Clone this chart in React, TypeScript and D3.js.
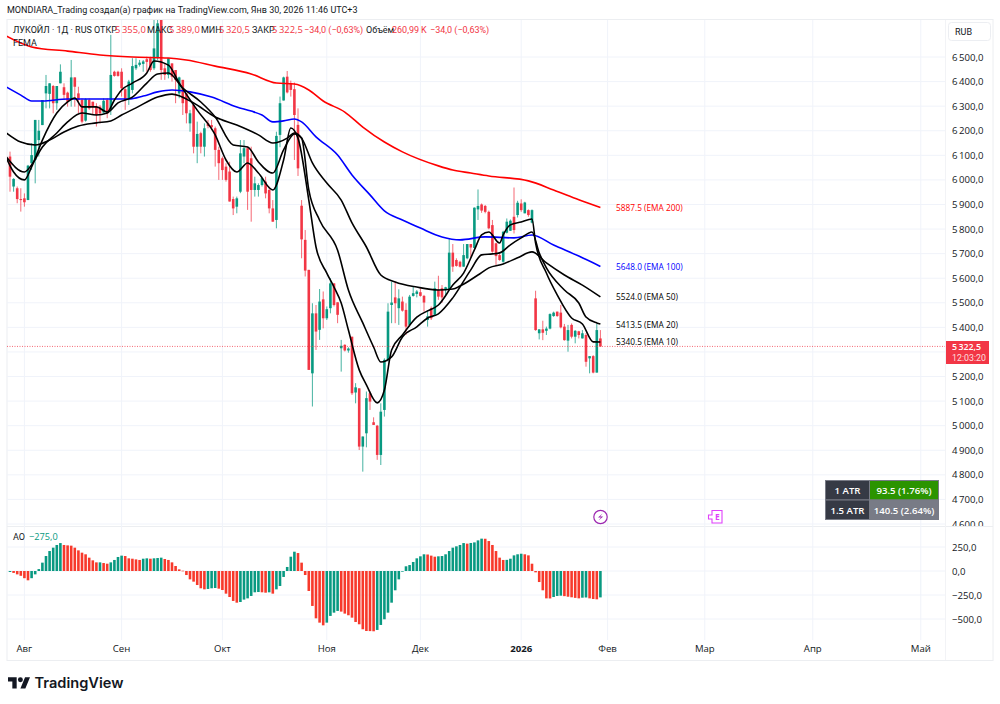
import React from "react";
import * as d3 from "d3";

// daily candles
const opens = [6095,5973,5966,5922,5925,5918,6068,6081,6162,6223,6352,6350,6382,6312,6393,6377,6355,6325,6417,6352,6325,6241,6325,6318,6298,6298,6274,6325,6285,6440,6440,6440,6369,6332,6366,6454,6468,6472,6491,6495,6454,6495,6651,6454,6427,6474,6447,6352,6407,6352,6230,6305,6135,6190,6135,6230,6223,6210,6122,6088,6054,6034,5922,5891,5952,6095,6129,6088,5959,5959,5979,5993,5959,5884,5837,6183,6323,6420,6393,6369,6224,5895,5756,5634,5213,5457,5390,5514,5437,5478,5579,5502,5315,5329,5306,5362,5135,5152,4915,4969,5132,5014,5000,4881,5064,5268,5491,5522,5478,5505,5471,5410,5528,5536,5543,5528,5430,5478,5451,5552,5559,5555,5555,5704,5674,5667,5647,5681,5739,5723,5880,5900,5894,5870,5816,5742,5694,5667,5785,5793,5850,5857,5904,5864,5877,5826,5518,5376,5392,5386,5395,5446,5464,5460,5403,5346,5410,5362,5384,5355,5369,5274,5283,5216,5355];
const highs = [6115,6007,5973,5966,5945,6061,6149,6244,6244,6325,6427,6393,6386,6382,6470,6393,6359,6488,6417,6379,6332,6332,6332,6318,6312,6305,6332,6332,6590,6444,6444,6454,6373,6407,6495,6495,6488,6488,6501,6501,6651,6651,6660,6474,6495,6474,6447,6420,6407,6352,6285,6305,6237,6196,6230,6244,6244,6217,6135,6095,6068,6074,5932,5932,6162,6162,6135,6135,6013,5986,6013,6013,5973,5918,6196,6339,6420,6443,6404,6396,6291,5918,5796,5634,5498,5491,5556,5546,5485,5600,5579,5502,5349,5331,5319,5362,5173,5152,4956,5139,5139,5034,5003,5091,5274,5498,5586,5586,5555,5525,5498,5532,5566,5552,5559,5532,5470,5485,5586,5610,5572,5565,5762,5739,5681,5671,5739,5739,5739,5888,5961,5904,5898,5875,5837,5744,5701,5793,5843,5839,5969,5915,5921,5911,5880,5880,5549,5392,5427,5403,5457,5464,5464,5491,5414,5410,5416,5389,5386,5389,5376,5283,5287,5414,5389];
const lows = [5952,5952,5905,5871,5891,5918,6040,5986,6095,6223,6291,6291,6271,6285,6393,6325,6298,6298,6298,6271,6230,6237,6285,6264,6217,6230,6271,6251,6264,6420,6420,6339,6285,6305,6352,6447,6461,6440,6440,6440,6447,6488,6407,6407,6413,6400,6312,6332,6264,6230,6196,6108,6068,6108,6095,6210,6203,6054,6000,6000,5993,5912,5857,5864,5946,6068,5878,5830,5932,5932,5973,5925,5864,5830,5803,6133,6323,6352,6339,6081,6016,5681,5607,5227,5078,5308,5349,5396,5430,5457,5485,5417,5220,5302,5297,5125,5091,4901,4813,4912,5064,5003,4861,4840,5037,5261,5417,5417,5410,5464,5369,5403,5525,5522,5525,5464,5403,5430,5451,5512,5500,5525,5552,5626,5647,5644,5647,5677,5685,5721,5837,5866,5864,5799,5704,5654,5671,5663,5782,5793,5782,5847,5870,5864,5850,5823,5386,5351,5348,5369,5392,5443,5443,5396,5346,5301,5355,5335,5355,5355,5240,5213,5213,5216,5320.5];
const closes = [6013,6004,5922,5918,5909,6058,6101,6244,6200,6325,6382,6393,6312,6382,6440,6346,6318,6417,6379,6325,6237,6328,6291,6298,6264,6271,6322,6271,6427,6423,6423,6373,6325,6400,6463,6468,6477,6482,6480,6447,6535,6637,6447,6427,6495,6420,6407,6417,6312,6271,6271,6135,6187,6135,6210,6219,6214,6122,6068,6040,6000,5912,5884,5925,6108,6129,5952,5959,5986,5979,6007,5945,5884,5830,6179,6312,6417,6356,6366,6264,6047,5758,5631,5227,5457,5383,5505,5437,5474,5579,5491,5451,5325,5306,5314,5132,5156,4915,4956,5112,5098,5003,4881,5057,5268,5464,5501,5498,5518,5468,5403,5525,5539,5546,5528,5501,5445,5437,5559,5525,5522,5563,5704,5647,5650,5647,5694,5739,5725,5887,5894,5875,5870,5803,5708,5690,5674,5789,5830,5834,5796,5907,5877,5908,5857,5877,5389,5392,5378,5395,5454,5460,5446,5400,5348,5389,5362,5386,5369,5376,5260,5283,5216,5389,5322.5];

// moving averages, sampled along each line as bar number / price
const ema200Bars = [-1,6,16,25,34,44,49,57,67,74,79,83,87,93,98,104,109,119,123,128,133,144,151,158,164];
const ema200Vals = [6585,6541,6524,6508,6500,6496,6488,6463,6431,6394,6390,6366,6321,6276,6215,6154,6114,6057,6040,6028,6016,5996,5959,5919,5887.5];
const ema100Bars = [-1,3,6,9,16,20,25,29,33,37,41,45,50,56,63,67,70,73,76,79,81,85,91,95,100,104,109,114,120,125,132,140,145,151,158,164];
const ema100Vals = [6378,6345,6321,6321,6329,6329,6329,6329,6329,6341,6358,6366,6358,6337,6297,6280,6264,6236,6240,6248,6236,6175,6101,6020,5939,5874,5837,5804,5768,5756,5768,5764,5776,5735,5690,5648];
const ema50Bars = [-1,3,7,11,15,19,24,28,31,35,41,45,51,57,63,69,73,77,79,81,84,88,92,95,99,103,107,113,119,123,125,130,133,137,141,145,149,154,159,164];
const ema50Vals = [6191,6154,6142,6162,6195,6219,6232,6240,6264,6293,6337,6349,6313,6256,6223,6183,6150,6170,6191,6170,6069,5987,5918,5825,5727,5613,5585,5564,5552,5556,5568,5613,5642,5658,5683,5707,5662,5613,5572,5524];
const ema20Bars = [-1,4,6,9,13,16,20,24,27,30,34,38,41,44,48,53,57,62,66,69,73,76,79,81,83,86,91,94,98,101,103,106,109,113,116,119,123,128,131,134,136,139,142,145,147,149,154,158,160,163,164];
const ema20Vals = [6093,6032,6061,6134,6191,6236,6272,6264,6272,6313,6337,6394,6431,6435,6374,6317,6256,6142,6134,6073,6028,6122,6187,6170,5959,5836,5714,5552,5418,5320,5259,5280,5361,5402,5438,5455,5520,5634,5695,5699,5703,5736,5764,5788,5703,5642,5552,5499,5442,5418,5413.5];
const ema10Bars = [-1,1,4,6,9,13,16,18,20,24,27,29,31,34,38,40,44,47,52,57,60,63,66,69,73,76,78,80,83,85,88,90,92,94,97,99,102,104,106,109,113,116,119,123,126,129,131,133,136,137,139,142,145,146,149,152,156,159,162,164];
const ema10Vals = [6089,6032,6000,6053,6162,6272,6317,6333,6297,6297,6276,6325,6366,6394,6435,6484,6467,6394,6284,6183,6081,6032,6069,6028,5959,6081,6211,6170,5918,5727,5621,5564,5499,5389,5227,5166,5093,5145,5308,5369,5442,5467,5491,5572,5621,5715,5776,5788,5743,5776,5817,5829,5841,5743,5621,5532,5438,5414,5341,5340.5];

const aoValues = [-10,-20,-35,-50,-75,-97,-75,-35,20,87,156,208,243,271,291,271,267,264,243,215,191,174,139,111,90,90,83,76,90,115,146,160,156,132,128,121,115,128,132,128,132,135,139,125,115,90,52,17,3,-42,-87,-111,-146,-180,-191,-187,-180,-177,-184,-198,-236,-271,-312,-330,-323,-298,-285,-260,-222,-219,-222,-226,-222,-236,-191,-156,-62,42,149,201,187,87,-42,-208,-364,-493,-538,-566,-538,-468,-434,-416,-423,-444,-461,-486,-531,-555,-607,-625,-626,-628,-614,-562,-503,-434,-330,-201,-87,-7,49,62,94,132,153,174,172,160,149,153,156,174,208,243,257,271,291,285,292,298,319,337,336,312,271,208,139,115,116,128,163,174,180,174,163,76,-14,-115,-201,-285,-286,-271,-260,-257,-262,-268,-274,-280,-285,-278,-276,-285,-292,-295,-275];

const priceTicks = [6500,6400,6300,6200,6100,6000,5900,5800,5700,5600,5500,5400,5200,5100,5000,4900,4800,4700,4600];
const aoTicks = [250,0,-250,-500];
const aoTickLabels = ["250,0","0,0","\u2212250,0","\u2212500,0"];
const monthBars = [4,31,59,88,114,142,166,193,223,253];
const monthLabels = ["Авг","Сен","Окт","Ноя","Дек","2026","Фев","Мар","Апр","Май"];

const emaLabels = [
  { price: 5887.5, text: "5887.5 (EMA 200)", color: "#ff0000" },
  { price: 5648, text: "5648.0 (EMA 100)", color: "#0000ff" },
  { price: 5524, text: "5524.0 (EMA 50)", color: "#000000" },
  { price: 5413.5, text: "5413.5 (EMA 20)", color: "#000000" },
  { price: 5340.5, text: "5340.5 (EMA 10)", color: "#000000" },
];

const UP = "#089981";
const DOWN = "#f23645";
const AO_DOWN = "#f7392b";
const GRID = "#f0f3fa";
const FONT = "'Open Sans', 'Noto Sans', sans-serif";
const LABEL_FONT = "Roboto, 'Noto Sans', sans-serif";
const TEXT = "#131722";

const W = 1000;
const H = 704;
const x = d3.scaleLinear().domain([0, 164]).range([10, 600.4]);
const y = d3.scaleLinear().domain([6500, 4600]).range([57, 524]);
const yAo = d3.scaleLinear().domain([-500, 250]).range([619, 547]);

const priceLabel = (p: number) => `${Math.floor(p / 1000)}\u2009${String(p % 1000).padStart(3, "0")},0`;

function emaPath(bars: number[], vals: number[]) {
  const line = d3.line<number>()
    .x((b) => x(b))
    .y((_, i) => y(vals[i]))
    .curve(d3.curveMonotoneX);
  return line(bars) || "";
}

const legend = [
  { x: 13, t: "ЛУКОЙЛ · 1Д · RUS", c: TEXT, f: LABEL_FONT },
  { x: 94, t: "ОТКР", c: TEXT, f: LABEL_FONT },
  { x: 115, t: "5\u2009355,0", c: DOWN, f: FONT },
  { x: 147, t: "МАКС", c: TEXT, f: LABEL_FONT },
  { x: 169, t: "5\u2009389,0", c: DOWN, f: FONT },
  { x: 201, t: "МИН", c: TEXT, f: LABEL_FONT },
  { x: 219, t: "5\u2009320,5", c: DOWN, f: FONT },
  { x: 252, t: "ЗАКР", c: TEXT, f: LABEL_FONT },
  { x: 272, t: "5\u2009322,5", c: DOWN, f: FONT },
  { x: 304, t: "\u221234,0 (\u22120,63%)", c: DOWN, f: LABEL_FONT },
  { x: 366, t: "Объём", c: TEXT, f: LABEL_FONT },
  { x: 392, t: "260,99\u2009K", c: DOWN, f: LABEL_FONT },
  { x: 430, t: "\u221234,0 (\u22120,63%)", c: DOWN, f: LABEL_FONT },
];

export default function App() {
  const barW = 2.6;
  return (
    <svg width={W} height={H} viewBox={`0 0 ${W} ${H}`} style={{ position: "absolute", left: 0, top: 0, background: "#fff" }} fontFamily={FONT}>
      <defs>
        <clipPath id="mainPane"><rect x={7} y={20} width={939} height={506} /></clipPath>
        <clipPath id="axisPane"><rect x={946} y={20} width={47} height={506} /></clipPath>
      </defs>
      <text x={7} y={13} fontSize={9} fontFamily={LABEL_FONT} fill={TEXT}>MONDIARA_Trading создал(а) график на TradingView.com, Янв 30, 2026 11:46 UTC+3</text>

      <rect x={7} y={19.5} width={986} height={641} fill="none" stroke="#eceef1" />
      <line x1={7} x2={993} y1={526.5} y2={526.5} stroke="#eceef1" />
      <line x1={945.5} x2={945.5} y1={20} y2={660} stroke="#f2f3f6" />

      <g stroke={GRID}>
        {monthBars.map((b, i) => <line key={i} x1={x(b)} x2={x(b)} y1={20} y2={640} />)}
        {[...priceTicks, 5300].map((p) => <line key={p} x1={7} x2={945} y1={y(p)} y2={y(p)} />)}
        {aoTicks.map((p) => <line key={p} x1={7} x2={945} y1={yAo(p)} y2={yAo(p)} />)}
      </g>

      <g clipPath="url(#mainPane)">
        {opens.map((o, i) => {
          const c = closes[i] >= o ? UP : DOWN;
          const top = y(Math.max(o, closes[i]));
          const bot = y(Math.min(o, closes[i]));
          return (
            <g key={i}>
              <line x1={x(i)} x2={x(i)} y1={y(highs[i])} y2={y(lows[i])} stroke={c} strokeWidth={1} strokeOpacity={0.75} />
              <rect x={x(i) - barW / 2} y={top} width={barW} height={Math.max(bot - top, 1)} fill={c} />
            </g>
          );
        })}
        <line x1={7} x2={945} y1={y(5322.5)} y2={y(5322.5)} stroke={DOWN} strokeDasharray="1 1.5" strokeOpacity={0.75} />
        <g fill="none" strokeWidth={1.6} strokeLinejoin="round">
          <path d={emaPath(ema200Bars, ema200Vals)} stroke="#ff0000" />
          <path d={emaPath(ema100Bars, ema100Vals)} stroke="#0000ff" />
          <path d={emaPath(ema50Bars, ema50Vals)} stroke="#000" />
          <path d={emaPath(ema20Bars, ema20Vals)} stroke="#000" />
          <path d={emaPath(ema10Bars, ema10Vals)} stroke="#000" />
        </g>
      </g>

      {legend.map((l, i) => <text key={i} x={l.x} y={33} fontSize={l.f === FONT ? 9.4 : 9} fontFamily={l.f} fill={l.c}>{l.t}</text>)}
      <text x={13} y={46} fontSize={9} fontFamily={LABEL_FONT} fill={TEXT}>FEMA</text>

      {emaLabels.map((l) => (
        <text key={l.text} x={616} y={y(l.price) + 3.5} fontSize={8.3} fill={l.color}>{l.text}</text>
      ))}

      <rect x={948.5} y={22.5} width={42} height={18} rx={3} fill="#fff" stroke="#eceef2" />
      <text x={955} y={35} fontSize={9} fontFamily={LABEL_FONT} fill={TEXT}>RUB</text>
      <g clipPath="url(#axisPane)" fontSize={9.6} fill={TEXT}>
        {priceTicks.map((p) => <text key={p} x={952} y={y(p) + 3.5}>{priceLabel(p)}</text>)}
      </g>

      <rect x={946} y={341} width={43} height={23} fill={DOWN} />
      <text x={952} y={349.8} fontSize={8.8} fontWeight={600} fill="#fff">5{"\u2009"}322,5</text>
      <text x={952} y={360.6} fontSize={8.8} fontFamily={LABEL_FONT} fill="#fff" fillOpacity={0.85}>12:03:20</text>

      <g stroke="#787b86" strokeWidth={1}>
        <rect x={825.5} y={480.5} width={44} height={19.5} fill="#363a45" />
        <rect x={869.5} y={480.5} width={69} height={19.5} fill="#2b9400" />
        <rect x={825.5} y={500} width={44} height={19.5} fill="#363a45" />
        <rect x={869.5} y={500} width={69} height={19.5} fill="#787b86" />
      </g>
      <g fontSize={9.6} fontWeight={600} fill="#fff" textAnchor="middle">
        <text x={847.5} y={494}>1 ATR</text>
        <text x={904} y={494}>93.5 (1.76%)</text>
        <text x={847.5} y={513.5}>1.5 ATR</text>
        <text x={904} y={513.5}>140.5 (2.64%)</text>
      </g>

      <circle cx={600.5} cy={517} r={6.7} fill="#fff" stroke="#9c27b0" strokeWidth={1.2} />
      <path d="M602.5 513.5 L598 517.6 H601 L598.6 520.5 L603.2 516.4 H600.2 Z" fill="#9c27b0" />
      <path d="M712 510.5 H722 V523 H712 V519 H708.5 V515 H712 Z" fill="#fff" stroke="#e040fb" strokeWidth={1.1} />
      <text x={715} y={520} fontSize={8.4} fontWeight={700} fill="#e040fb">E</text>

      <g>
        {aoValues.map((v, i) => {
          const rising = i === 0 || v >= aoValues[i - 1];
          const top = Math.min(yAo(v), yAo(0));
          return <rect key={i} x={x(i) - barW / 2} y={top} width={barW} height={Math.max(Math.abs(yAo(v) - yAo(0)), 0.6)} fill={rising ? UP : AO_DOWN} />;
        })}
      </g>
      <text x={13} y={540} fontSize={9} fontFamily={LABEL_FONT} fill={TEXT}>AO</text>
      <text x={29} y={540} fontSize={9.2} fill={UP}>{"\u2212"}275,0</text>
      <g fontSize={9.6} fill={TEXT}>
        {aoTicks.map((p, i) => <text key={p} x={952} y={yAo(p) + 3.5}>{aoTickLabels[i]}</text>)}
      </g>

      <g fontSize={9.6} fill={TEXT} textAnchor="middle">
        {monthBars.map((b, i) => (
          <text key={i} x={x(b)} y={652} fontWeight={monthLabels[i] === "2026" ? 700 : 400}>{monthLabels[i]}</text>
        ))}
      </g>

      <g transform="translate(8,676) scale(0.62)" fill="#131722">
        <path d="M14 20H7V9H0V2h14v18zM28 20h-8l7.5-18h8L28 20z" />
        <circle cx={20} cy={6} r={4} />
      </g>
      <text x={34.5} y={687.5} fontSize={14.6} fontWeight={600} fontFamily="Inter, 'Noto Sans', sans-serif" fill="#131722">TradingView</text>
    </svg>
  );
}
